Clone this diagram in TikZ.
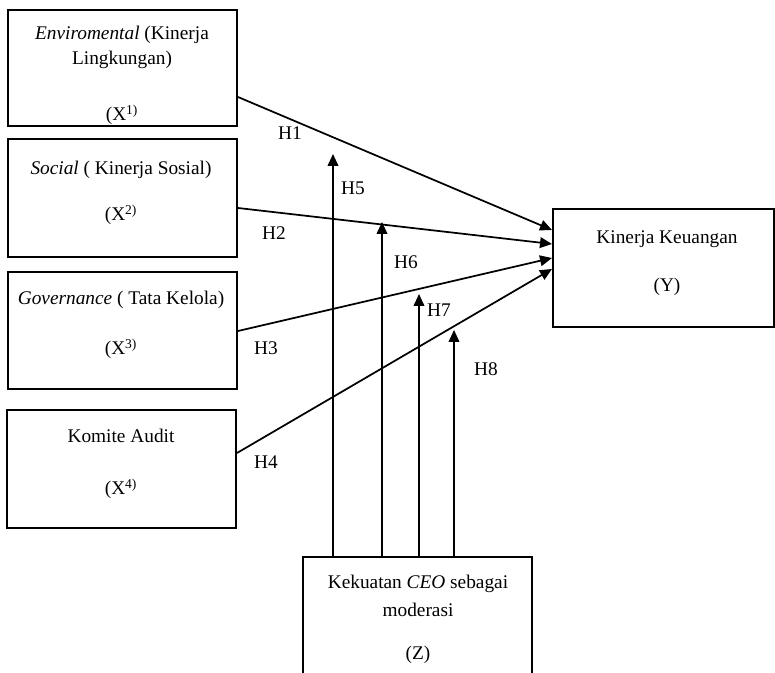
\documentclass[tikz,border=0pt]{standalone}
\usepackage{fontspec}
\setmainfont{Liberation Serif}
\usetikzlibrary{arrows.meta}
\begin{document}
\begin{tikzpicture}[x=0.75pt,y=-0.75pt,
  box/.style={draw,line width=1.5pt,inner sep=0pt,minimum width=171.75pt,minimum height=88pt},
  lbl/.style={inner sep=0pt,anchor=base,font=\fontsize{14.5pt}{17pt}\selectfont},
  hl/.style={inner sep=0pt,font=\fontsize{14.5pt}{17pt}\selectfont},
  arr/.style={line width=1.3pt,-{Triangle[length=9pt,width=8pt]}}]
\useasboundingbox (0,0) rectangle (775,673);
\clip (0,0) rectangle (775,673);
% boxes
\node[box,minimum height=87pt] (x1) at (122.5,68) {};
\node[box] (x2) at (122.5,198) {};
\node[box,minimum height=87.75pt] (x3) at (122.5,330.5) {};
\node[box] (x4) at (121.5,469) {};
\node[box,minimum width=165.75pt] (y) at (663.5,268) {};
\node[box,minimum height=100pt] (z) at (417.5,624) {};
% texts
\begin{scope}
\clip (x1.north west) rectangle (x1.south east);
\node[lbl] (t1a) at (122,40) {\textit{Enviromental} (Kinerja};
\node[lbl] (t1b) at (122,65) {Lingkungan)};
\node[lbl] (t1c) at (122,121) {(X\textsuperscript{1)}};
\end{scope}
\node[lbl] (t2a) at (121,175) {\textit{Social} ( Kinerja Sosial)};
\node[lbl] (t2b) at (121,221) {(X\textsuperscript{2)}};
\node[lbl] (t3a) at (121,305) {\textit{Governance} ( Tata Kelola)};
\node[lbl] (t3b) at (121,355) {(X\textsuperscript{3)}};
\node[lbl] (t4a) at (121,443) {Komite Audit};
\node[lbl] (t4b) at (121,495) {(X\textsuperscript{4)}};
\node[lbl] (tya) at (667,244) {Kinerja Keuangan};
\node[lbl] (tyb) at (667,292) {(Y)};
\node[lbl] (tza) at (418,588) {Kekuatan \textit{CEO} sebagai};
\node[lbl] (tzb) at (418,616) {moderasi};
\node[lbl] (tzc) at (418,659) {(Z)};
% connector end points
\coordinate (s1) at (x1.east |- 0,97);
\coordinate (s2) at (x2.east |- 0,208);
\coordinate (s3) at (x3.east |- 0,331);
\coordinate (s4) at (x4.east |- 0,453);
\coordinate (e1) at (y.west |- 0,230);
\coordinate (e2) at (y.west |- 0,244);
\coordinate (e3) at (y.west |- 0,258);
\coordinate (e4) at (y.west |- 0,269);
\draw[arr] (s1) -- (e1);
\draw[arr] (s2) -- (e2);
\draw[arr] (s3) -- (e3);
\draw[arr] (s4) -- (e4);
% moderation arrows
\coordinate (m5) at (333,154);
\coordinate (m6) at (382,222);
\coordinate (m7) at (419,294);
\coordinate (m8) at (454,330);
\draw[arr] (z.north -| m5) -- (m5);
\draw[arr] (z.north -| m6) -- (m6);
\draw[arr] (z.north -| m7) -- (m7);
\draw[arr] (z.north -| m8) -- (m8);
% labels
\node[hl] (h1) at (290,133) {H1};
\node[hl] (h2) at (274,233) {H2};
\node[hl] (h3) at (266,348) {H3};
\node[hl] (h4) at (266,462) {H4};
\node[hl] (h5) at (353,188) {H5};
\node[hl] (h6) at (406,262) {H6};
\node[hl] (h7) at (439,310) {H7};
\node[hl] (h8) at (486,369) {H8};
\end{tikzpicture}
\end{document}
